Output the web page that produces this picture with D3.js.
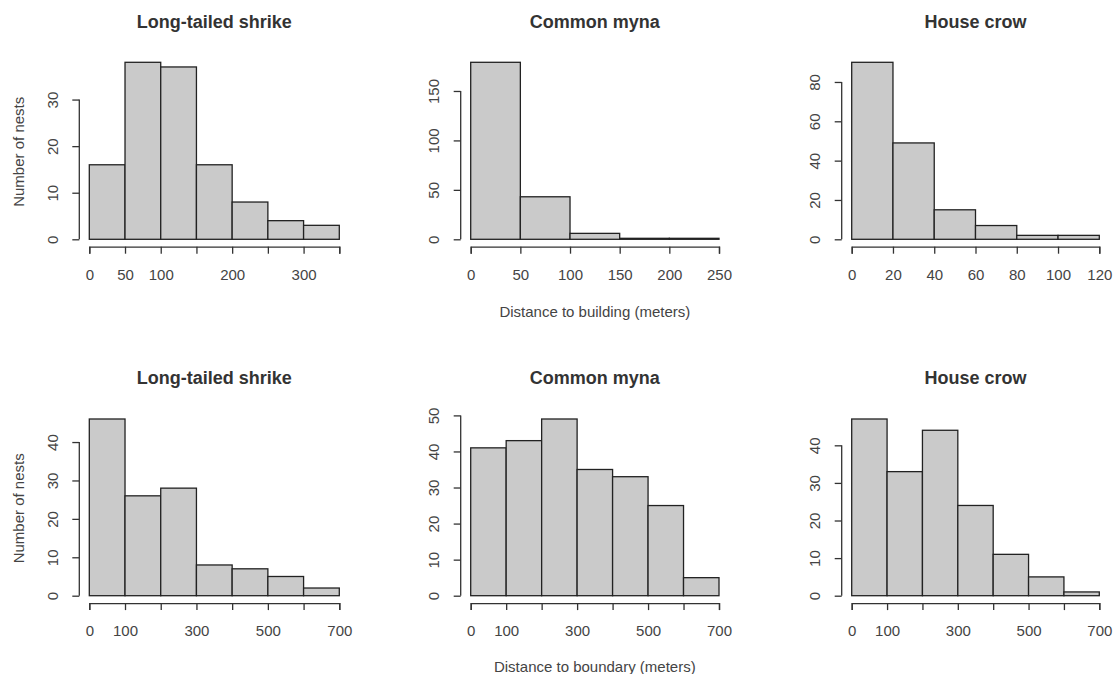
<!DOCTYPE html>
<html lang="en">
<head>
<meta charset="utf-8">
<title>Nest distances</title>
<style>
    body { margin: 0; background: #fff; }
    svg text { font-family: "Liberation Sans", Arial, sans-serif; fill: #444; }
    .title { font-weight: bold; fill: #333; }
</style>
</head>
<body>
<svg id="chart"></svg>
<script src="https://d3js.org/d3.v7.min.js"></script>
<script>
const species = ["Long-tailed shrike", "Common myna", "House crow"];
const rowLabels = ["Distance to building (meters)", "Distance to boundary (meters)"];

// distance to building
const shrikeBuildingBreaks = [0, 50, 100, 150, 200, 250, 300, 350];
const shrikeBuildingCounts = [16, 38, 37, 16, 8, 4, 3];
const shrikeBuildingLabels = [0, 50, 100, 200, 300];
const shrikeBuildingYTicks = [0, 10, 20, 30];

const mynaBuildingBreaks = [0, 50, 100, 150, 200, 250];
const mynaBuildingCounts = [179, 43, 6, 1, 1];
const mynaBuildingLabels = [0, 50, 100, 150, 200, 250];
const mynaBuildingYTicks = [0, 50, 100, 150];

const crowBuildingBreaks = [0, 20, 40, 60, 80, 100, 120];
const crowBuildingCounts = [90, 49, 15, 7, 2, 2];
const crowBuildingLabels = [0, 20, 40, 60, 80, 100, 120];
const crowBuildingYTicks = [0, 20, 40, 60, 80];

// distance to boundary
const boundaryBreaks = [0, 100, 200, 300, 400, 500, 600, 700];
const boundaryLabels = [0, 100, 300, 500, 700];
const shrikeBoundaryCounts = [46, 26, 28, 8, 7, 5, 2];
const shrikeBoundaryYTicks = [0, 10, 20, 30, 40];
const mynaBoundaryCounts = [41, 43, 49, 35, 33, 25, 5];
const mynaBoundaryYTicks = [0, 10, 20, 30, 40, 50];
const crowBoundaryCounts = [47, 33, 44, 24, 11, 5, 1];
const crowBoundaryYTicks = [0, 10, 20, 30, 40];

const panels = [
    {row: 0, col: 0, breaks: shrikeBuildingBreaks, counts: shrikeBuildingCounts, labels: shrikeBuildingLabels, yTicks: shrikeBuildingYTicks},
    {row: 0, col: 1, breaks: mynaBuildingBreaks, counts: mynaBuildingCounts, labels: mynaBuildingLabels, yTicks: mynaBuildingYTicks},
    {row: 0, col: 2, breaks: crowBuildingBreaks, counts: crowBuildingCounts, labels: crowBuildingLabels, yTicks: crowBuildingYTicks},
    {row: 1, col: 0, breaks: boundaryBreaks, counts: shrikeBoundaryCounts, labels: boundaryLabels, yTicks: shrikeBoundaryYTicks},
    {row: 1, col: 1, breaks: boundaryBreaks, counts: mynaBoundaryCounts, labels: boundaryLabels, yTicks: mynaBoundaryYTicks},
    {row: 1, col: 2, breaks: boundaryBreaks, counts: crowBoundaryCounts, labels: boundaryLabels, yTicks: crowBoundaryYTicks}
];

const width = 1114;
const height = 674;
const colLeft = [89.3, 470.7, 851.7];
const colRight = [339.3, 719, 1099.3];
const rowBase = [239.3, 595.7];
const rowTop = [62.3, 419];
const titleY = [22, 378];
const xLabelY = [311.7, 667];

const svg = d3.select("#chart")
    .attr("width", width)
    .attr("height", height);

panels.forEach(p => {
    const x = d3.scaleLinear()
        .domain([p.breaks[0], p.breaks[p.breaks.length - 1]])
        .range([colLeft[p.col], colRight[p.col]]);
    const y = d3.scaleLinear()
        .domain([0, d3.max(p.counts)])
        .range([rowBase[p.row], rowTop[p.row]]);

    const g = svg.append("g");

    const bins = p.counts.map((c, i) => ({x0: p.breaks[i], x1: p.breaks[i + 1], n: c}));
    g.selectAll("rect")
        .data(bins)
        .enter()
        .append("rect")
        .attr("x", d => x(d.x0))
        .attr("width", d => x(d.x1) - x(d.x0))
        .attr("y", d => y(d.n))
        .attr("height", d => y(0) - y(d.n))
        .attr("fill", "#cacaca")
        .attr("stroke", "#222")
        .attr("stroke-width", 1.3);

    // x axis, a little below the bars
    const xAxis = g.append("g")
        .attr("transform", `translate(0,${rowBase[p.row] + 7.4})`)
        .call(d3.axisBottom(x)
            .tickValues(p.breaks)
            .tickSizeOuter(0)
            .tickSize(7)
            .tickFormat(d => p.labels.includes(d) ? d : ""));
    xAxis.selectAll("text")
        .attr("y", 28)
        .attr("dy", "0.35em")
        .style("font-size", "15px");

    // y axis, a little left of the bars, line only to the last tick
    const axisX = colLeft[p.col] - 10;
    const yAxis = g.append("g")
        .attr("transform", `translate(${axisX},0)`)
        .call(d3.axisLeft(y)
            .tickValues(p.yTicks)
            .tickSize(7));
    yAxis.select(".domain").remove();
    yAxis.append("line")
        .attr("y1", y(0))
        .attr("y2", y(p.yTicks[p.yTicks.length - 1]))
        .attr("stroke", "currentColor");
    yAxis.selectAll("text")
        .attr("transform", "rotate(-90)")
        .attr("x", 0)
        .attr("y", -27)
        .attr("dy", "0.35em")
        .attr("text-anchor", "middle")
        .style("font-size", "15px");

    g.selectAll(".domain, .tick line, line")
        .attr("stroke", "#333")
        .attr("stroke-width", 1.3);

    g.append("text")
        .attr("class", "title")
        .attr("x", (colLeft[p.col] + colRight[p.col]) / 2)
        .attr("y", titleY[p.row])
        .attr("dy", "0.35em")
        .attr("text-anchor", "middle")
        .style("font-size", "18px")
        .text(species[p.col]);

    if (p.col === 0) {
        const cy = (rowBase[p.row] + rowTop[p.row]) / 2 + 1;
        g.append("text")
            .attr("transform", `translate(18.3,${cy}) rotate(-90)`)
            .attr("dy", "0.35em")
            .attr("text-anchor", "middle")
            .style("font-size", "15px")
            .text("Number of nests");
    }
    if (p.col === 1) {
        g.append("text")
            .attr("x", (colLeft[p.col] + colRight[p.col]) / 2)
            .attr("y", xLabelY[p.row])
            .attr("dy", "0.35em")
            .attr("text-anchor", "middle")
            .style("font-size", "15px")
            .text(rowLabels[p.row]);
    }
});
</script>
</body>
</html>
